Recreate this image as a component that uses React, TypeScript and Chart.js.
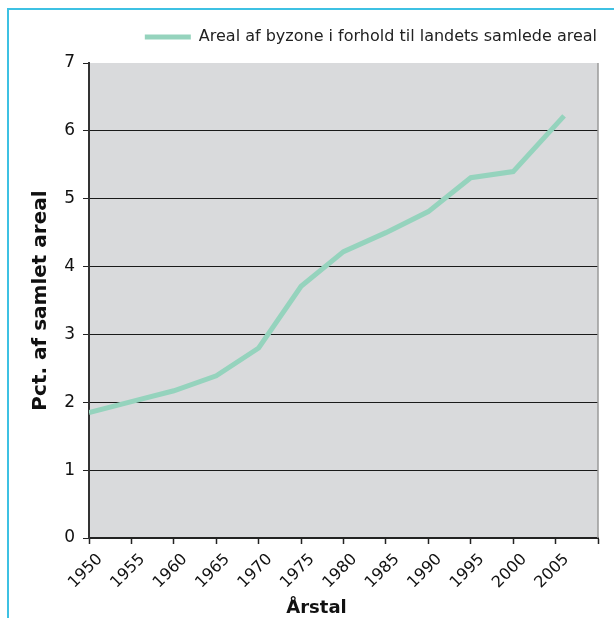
import React, { useEffect, useRef } from "react";
import { Chart, registerables } from "chart.js";

Chart.register(...registerables);

const years = [1950, 1955, 1960, 1965, 1970, 1975, 1980, 1985, 1990, 1995, 2000, 2006];
const values = [1.85, 2.01, 2.17, 2.39, 2.8, 3.71, 4.22, 4.5, 4.81, 5.31, 5.4, 6.22];
const xTickValues = [1950, 1955, 1960, 1965, 1970, 1975, 1980, 1985, 1990, 1995, 2000, 2005, 2010];
const yTickValues = [0, 1, 2, 3, 4, 5, 6, 7];
const seriesLabel = "Areal af byzone i forhold til landets samlede areal";
const xTitle = "Årstal";
const yTitle = "Pct. af samlet areal";

const FONT = "'DejaVu Sans', Verdana, sans-serif";
const LINE_COLOR = "#95d3bd";
const PLOT_BG = "#d9dadc";

const bgPlugin = {
  id: "plotBg",
  beforeLayout(chart: any) {
    const lg = chart.legend;
    if (lg && !lg.__patched) {
      const orig = lg.fit;
      lg.fit = function () {
        orig.call(this);
        this.height += 8;
      };
      lg.__patched = true;
    }
  },
  beforeDraw(chart: any) {
    const { ctx, chartArea } = chart;
    if (!chartArea) return;
    ctx.save();
    ctx.fillStyle = PLOT_BG;
    ctx.fillRect(chartArea.left, chartArea.top, chartArea.right - chartArea.left, chartArea.bottom - chartArea.top);
    ctx.restore();
  },
  beforeDatasetsDraw(chart: any) {
    const { ctx, chartArea } = chart;
    ctx.save();
    ctx.strokeStyle = "#9a9a9a";
    ctx.lineWidth = 1.5;
    ctx.beginPath();
    ctx.moveTo(chartArea.right, chartArea.top);
    ctx.lineTo(chartArea.right, chartArea.bottom);
    ctx.stroke();
    ctx.restore();
  },
  afterDraw(chart: any) {
    const { ctx, chartArea } = chart;
    ctx.save();
    ctx.fillStyle = "#111";
    ctx.font = `bold 18px ${FONT}`;
    ctx.textAlign = "center";
    ctx.textBaseline = "alphabetic";
    const cx = (chartArea.left + chartArea.right) / 2 - 27;
    ctx.fillText(xTitle, cx, chart.height - 5);
    ctx.restore();
  },
};

export default function App() {
  const ref = useRef<HTMLCanvasElement | null>(null);

  useEffect(() => {
    if (!ref.current) return;
    const chart = new Chart(ref.current, {
      type: "line",
      data: {
        datasets: [
          {
            label: seriesLabel,
            data: years.map((y, i) => ({ x: y, y: values[i] })),
            borderColor: LINE_COLOR,
            backgroundColor: LINE_COLOR,
            borderWidth: 5,
            pointRadius: 0,
            pointHoverRadius: 0,
            tension: 0,
            fill: false,
          },
        ],
      },
      options: {
        animation: false,
        responsive: false,
        events: [],
        layout: { padding: { left: 25, right: 7, top: 19, bottom: 0 } },
        plugins: {
          tooltip: { enabled: false },
          legend: {
            display: true,
            position: "top",
            align: "end",
            labels: {
              boxWidth: 46,
              boxHeight: 5,
              padding: 10,
              color: "#222",
              font: { family: FONT, size: 16 },
              generateLabels: (c: any) =>
                (Chart.defaults.plugins.legend.labels as any)
                  .generateLabels(c)
                  .map((l: any) => ({ ...l, lineWidth: 0, fillStyle: LINE_COLOR })),
            },
          },
        },
        scales: {
          x: {
            type: "linear",
            min: 1950,
            max: 2010,
            afterBuildTicks: (s: any) => {
              s.ticks = xTickValues.map((v) => ({ value: v }));
            },
            afterFit: (s: any) => {
              s.height = 80;
              s.paddingLeft = 0;
              s.paddingRight = 0;
            },
            ticks: {
              callback: (v: any) => (v === 2010 ? "" : String(v)),
              minRotation: 45,
              maxRotation: 45,
              autoSkip: false,
              padding: 6,
              labelOffset: 11,
              color: "#111",
              font: { family: FONT, size: 16 },
            },
            grid: {
              drawOnChartArea: false,
              drawTicks: true,
              tickLength: 6,
              tickColor: "#222",
              tickWidth: 1.5,
            },
            border: { display: true, color: "#222", width: 2 },
            title: { display: false, text: xTitle },
          },
          y: {
            min: 0,
            max: 7,
            afterBuildTicks: (s: any) => {
              s.ticks = yTickValues.map((v) => ({ value: v }));
            },
            afterFit: (s: any) => {
              s.width = 64;
            },
            ticks: {
              padding: 8,
              color: "#111",
              font: { family: FONT, size: 17 },
            },
            grid: {
              color: (ctx: any) =>
                ctx.tick && (ctx.tick.value === 0 || ctx.tick.value === 7) ? "rgba(0,0,0,0)" : "#1a1a1a",
              tickColor: "#222",
              tickLength: 6,
              lineWidth: 1,
            },
            border: { display: true, color: "#333", width: 2 },
            title: {
              display: true,
              text: yTitle,
              color: "#111",
              font: { family: FONT, size: 20, weight: "bold" },
              padding: { top: 4, bottom: 4 },
            },
          },
          yRight: {
            type: "linear",
            position: "right",
            display: true,
            afterFit: (s: any) => {
              s.width = 9;
            },
            ticks: { display: false },
            grid: { display: false, drawTicks: false },
            border: { display: false },
          },
        },
      } as any,
      plugins: [bgPlugin],
    });
    return () => chart.destroy();
  }, []);

  return (
    <div style={{ position: "absolute", left: 0, top: 0, width: 614, height: 618, overflow: "hidden" }}>
      <div
        style={{
          position: "absolute",
          left: 7,
          top: 8,
          width: 607,
          height: 610,
          boxSizing: "border-box",
          borderLeft: "2px solid #3ec1e3",
          borderTop: "2px solid #3ec1e3",
        }}
      />
      <canvas ref={ref} width={614} height={618} style={{ position: "absolute", left: 0, top: 0, width: 614, height: 618 }} />
    </div>
  );
}
